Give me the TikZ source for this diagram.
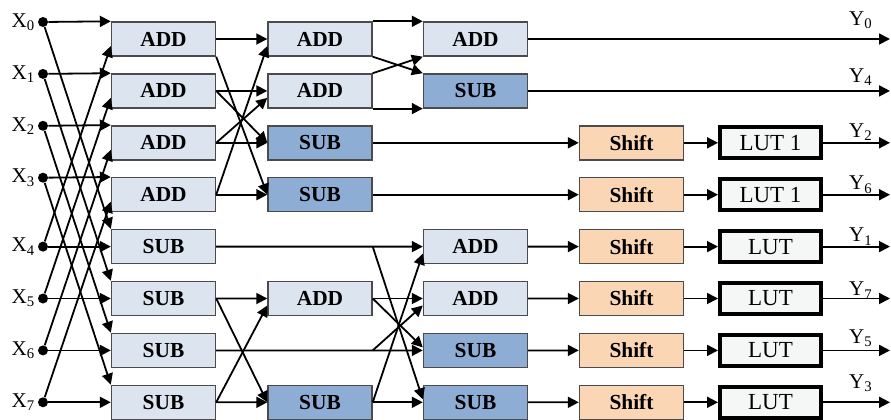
\documentclass[tikz,border=0pt]{standalone}
\usepackage{fontspec}
\setmainfont{Liberation Serif}
\usetikzlibrary{arrows.meta, positioning, calc}
\definecolor{addfill}{RGB}{220,228,239}
\definecolor{subfill}{RGB}{141,173,212}
\definecolor{shiftfill}{RGB}{250,214,180}
\definecolor{lutfill}{RGB}{245,247,247}
\definecolor{boxline}{RGB}{75,75,75}

\begin{document}
\begin{tikzpicture}[
        x=0.5pt, y=-0.5pt,
        op/.style = {rectangle, draw=boxline, line width=0.7pt, minimum width=52pt, minimum height=17pt, inner sep=0pt, fill=addfill, font=\fontsize{10.7}{12}\selectfont\bfseries},
        dark/.style = {op, fill=subfill},
        shiftbox/.style = {op, fill=shiftfill},
        lut/.style = {rectangle, draw=black, line width=2pt, minimum width=50.5pt, minimum height=15.5pt, inner sep=0pt, fill=lutfill, font=\fontsize{11.5}{12}\selectfont},
        dot/.style = {circle, fill=black, inner sep=0pt, minimum size=5pt},
        line/.style = {-{Triangle[length=5.5pt,width=5.5pt]}, line width=0.9pt},
        lbl/.style = {font=\fontsize{10.5}{12}\selectfont, inner sep=1pt},
    ]
        \useasboundingbox (0,0) rectangle (891,419);
        % first column
        \foreach \i/\t in {0/ADD,1/ADD,2/ADD,3/ADD,4/SUB,5/SUB,6/SUB,7/SUB}{
            \node[op] (a\i) at (163.5, {39+51.9*\i}) {\t};
        }
        % second column
        \node[op]   (b0) at (320, 39)    {ADD};
        \node[op]   (b1) at (320, 90.9)  {ADD};
        \node[dark] (b2) at (320, 142.8) {SUB};
        \node[dark] (b3) at (320, 194.7) {SUB};
        \node[op]   (b5) at (320, 298.5) {ADD};
        \node[dark] (b7) at (320, 402.3) {SUB};
        % third column
        \node[op]   (c0) at (475.5, 39)    {ADD};
        \node[dark] (c1) at (475.5, 90.9)  {SUB};
        \node[op]   (c4) at (475.5, 246.6) {ADD};
        \node[op]   (c5) at (475.5, 298.5) {ADD};
        \node[dark] (c6) at (475.5, 350.4) {SUB};
        \node[dark] (c7) at (475.5, 402.3) {SUB};
        % shift and look-up tables
        \foreach \i/\t in {2/LUT 1,3/LUT 1,4/LUT,5/LUT,6/LUT,7/LUT}{
            \node[shiftbox] (s\i) at (631.5, {39+51.9*\i}) {Shift};
            \node[lut] (l\i) at (770.5, {39+51.9*\i}) {\t};
        }
        % inputs
        \foreach \i in {0,...,3}{
            \node[dot, label={[lbl]left:X\textsubscript{\i}}] (x\i) at (43, {22+51.9*\i}) {};
        }
        \foreach \i in {4,...,7}{
            \node[dot, label={[lbl]left:X\textsubscript{\i}}] (x\i) at (43, {39+51.9*\i}) {};
        }
        % outputs
        \foreach \i/\n/\dy in {0/0/19,1/4/14,2/2/11,3/6/10,4/1/10,5/7/8,6/5/12,7/3/19}{
            \coordinate (o\i) at (890, {39+51.9*\i});
            \node[lbl] (y\i) at (861, {39+51.9*\i-\dy}) {Y\textsubscript{\n}};
        }

        % stage 1
        \foreach \i in {0,...,3}{
            \pgfmathtruncatemacro\j{\i+4}
            \draw [line] (x\i) -- (a\i.north west);
            \draw [line] (x\i) -- (a\j.north west);
        }
        \foreach \i in {4,...,7}{
            \pgfmathtruncatemacro\j{\i-4}
            \draw [line] (x\i) -- (a\i);
            \draw [line] (x\i) -- ([yshift=-3.5pt]a\j.west);
        }

        % stage 2
        \draw [line] (a0) -- (b0);
        \draw [line] (a0.south east) -- (b3.west);
        \draw [line] (a1) -- (b1);
        \draw [line] (a1.east) -- (b2.west);
        \draw [line] (a2) -- (b2);
        \draw [line] (a2.east) -- ([yshift=-3.5pt]b1.west);
        \draw [line] (a3) -- (b3);
        \draw [line] (a3.east) -- ([yshift=-3.5pt]b0.west);
        \draw [line] (a5) -- (b5);
        \draw [line] (a5.east) -- (b7.west);
        \draw [line] (a7) -- (b7);
        \draw [line] (a7.east) -- ([yshift=-3.5pt]b5.west);

        % stage 3
        \coordinate (t4) at (b5.east |- a4);
        \coordinate (t6) at (b5.east |- a6);
        \draw [line] (b0.north east) -- (c0.north west);
        \draw [line] (b0.south east) -- (c1.north west);
        \draw [line] (b1.north east) -- (c0.south west);
        \draw [line] (b1.south east) -- (c1.south west);
        \draw [line] (a4) -- (c4);
        \draw [line] (t4) -- ([yshift=1.5pt]c7.west);
        \draw [line] (b5) -- (c5);
        \draw [line] (b5.east) -- ([yshift=1.5pt]c6.west);
        \draw [line] (a6) -- (c6);
        \draw [line] (t6) -- ([yshift=-3.5pt]c5.west);
        \draw [line] (b7) -- (c7);
        \draw [line] (b7.east) -- ([yshift=-3.5pt]c4.west);

        % to the outputs
        \draw [line] (c0) -- (o0);
        \draw [line] (c1) -- (o1);
        \draw [line] (b2) -- (s2);
        \draw [line] (b3) -- (s3);
        \foreach \i in {4,...,7}{
            \draw [line] (c\i) -- (s\i);
        }
        \foreach \i in {2,...,7}{
            \draw [line] (s\i) -- (l\i);
            \draw [line] (l\i) -- (o\i);
        }
    \end{tikzpicture}
\end{document}
